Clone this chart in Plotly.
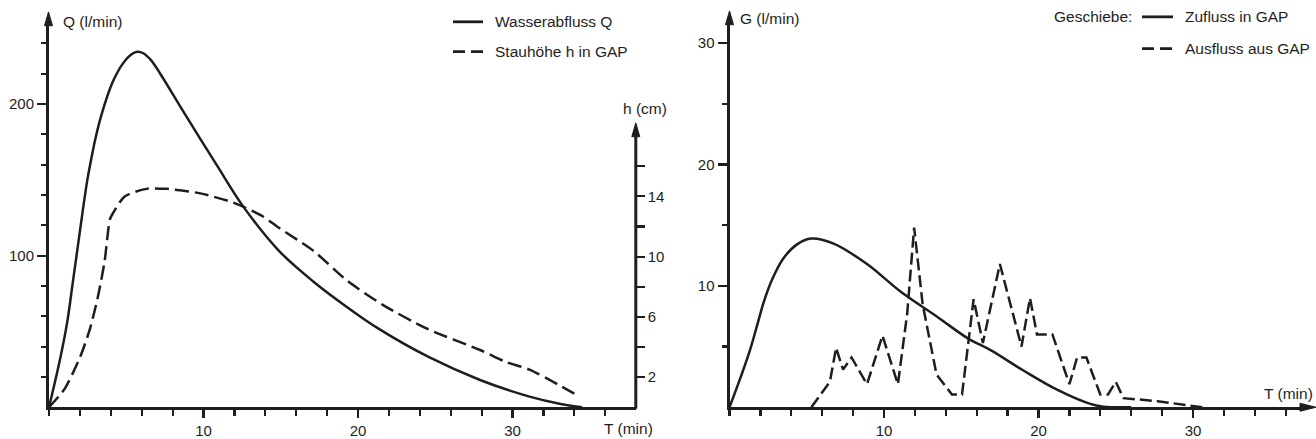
import plotly.graph_objects as go

# ---------------- data ----------------
# Left chart: water discharge Q (l/min) and backwater height h (cm) vs time T (min)
T_Q = [0, 0.7, 1.16, 1.55, 2.0, 2.45, 2.7, 3.0, 3.4, 4.1, 4.8, 5.3, 5.7, 6.1, 6.6, 7.2, 8.7, 10.9, 12.6,
       14.9, 17.1, 19.3, 21.3, 24.6, 27.9, 31.1, 33.2, 34.5]
Q_VAL = [0, 31, 55, 83, 116, 148, 162, 177, 193, 214, 227, 232.5, 234.5, 233.5, 229, 220, 195, 159, 132,
         103, 83, 66, 52, 33, 18, 7, 2, 0]

T_H = [0, 1.0, 2.0, 2.65, 3.2, 3.6, 3.95, 4.15, 4.9, 6.3, 7.6, 9.8, 11.9, 12.6, 13.8, 14.9,
       17.1, 19.3, 21.6, 24.5, 27.9, 29.6, 31.1, 34.0]
H_VAL = [0, 1.2, 3.3, 5.2, 7.5, 9.7, 12.5, 12.9, 14.0, 14.5, 14.5, 14.2, 13.6, 13.3, 12.7, 11.9,
         10.4, 8.4, 6.8, 5.2, 3.8, 3.0, 2.5, 0.9]

# Right chart: bed load G (l/min), inflow and outflow of GAP
T_IN = [0, 0.7, 1.3, 1.8, 2.2, 2.75, 3.45, 4.35, 5.3, 6.7, 8.9, 11.0, 13.5, 15.4, 16.9,
        19.0, 21.2, 23.3, 24.2, 26.0]
G_IN = [0, 2.4, 4.6, 6.8, 8.6, 10.5, 12.2, 13.4, 13.9, 13.5, 11.8, 9.6, 7.4, 5.7, 4.7,
        3.05, 1.45, 0.3, 0.05, 0]

T_OUT = [5.3, 6.5, 6.9, 7.35, 7.9, 8.9, 9.9, 10.9, 11.5, 11.95, 12.5, 13.4, 14.4, 15.05,
         15.8, 16.4, 17.5, 18.9, 19.45, 19.9, 20.9, 22.0, 22.5, 23.1, 24.0, 24.5, 25.0,
         25.5, 27.7, 29.8, 30.6]
G_OUT = [0, 2.1, 4.9, 3.1, 4.1, 1.9, 5.9, 1.9, 7.7, 14.8, 8.5, 2.7, 1.05, 1.05,
         8.9, 5.3, 11.8, 5.0, 9.0, 6.0, 6.0, 1.9, 4.1, 4.1, 1.05, 1.05, 2.1,
         0.75, 0.5, 0.15, 0]

X_MAJOR = [10, 20, 30]
X_MINOR = list(range(0, 38, 2))
Q_MAJOR = [100, 200]
Q_MINOR = list(range(20, 260, 20))
H_TICKS = [2, 4, 6, 8, 10, 12, 14, 16]
H_LABELS = ["2", "", "6", "", "10", "", "14", ""]
G_MAJOR = [10, 20, 30]
G_MINOR = [5, 15, 25]

# ---------------- layout helpers ----------------
W, H = 1316, 439
INK = "#1e1e1e"
FONT = "Liberation Sans, Arial, sans-serif"


def px(x):
    return x / W


def py(y):
    return 1 - y / H


ORIG_Y = 411
L_X0, R_X0 = 49, 729.5
PX_PER_MIN = 15.45
L_XEND_T = 37.98
R_XEND = 1302
Q_TOP, G_TOP = 20, 18
LW = 2.5
AXW = 3

fig = go.Figure()
fig.add_trace(go.Scatter(x=T_Q, y=Q_VAL, mode="lines", xaxis="x", yaxis="y",
                         line=dict(color=INK, width=LW, shape="spline", smoothing=1.0)))
fig.add_trace(go.Scatter(x=T_H, y=H_VAL, mode="lines", xaxis="x", yaxis="y2",
                         line=dict(color=INK, width=LW, dash="14px,6px", shape="spline", smoothing=0.7)))
fig.add_trace(go.Scatter(x=T_IN, y=G_IN, mode="lines", xaxis="x2", yaxis="y3",
                         line=dict(color=INK, width=LW, shape="spline", smoothing=1.0)))
fig.add_trace(go.Scatter(x=T_OUT, y=G_OUT, mode="lines", xaxis="x2", yaxis="y3",
                         line=dict(color=INK, width=LW, dash="12px,5px")))

axis_common = dict(showgrid=False, zeroline=False, showline=True, linecolor=INK, linewidth=AXW,
                   ticks="outside", tickcolor=INK, tickwidth=2.2, fixedrange=True,
                   tickfont=dict(family=FONT, size=15, color=INK))
minor_common = dict(ticks="outside", tickwidth=2.2, tickcolor=INK)

fig.update_layout(
    width=W, height=H, margin=dict(l=0, r=0, t=0, b=0),
    paper_bgcolor="white", plot_bgcolor="white", showlegend=False,
    font=dict(family=FONT, size=15, color=INK),
    xaxis=dict(axis_common, domain=[px(L_X0), px(L_X0 + L_XEND_T * PX_PER_MIN)],
               range=[0, L_XEND_T], anchor="y", tickvals=X_MAJOR, ticklen=8,
               minor=dict(minor_common, tickvals=X_MINOR, ticklen=6)),
    yaxis=dict(axis_common, domain=[py(ORIG_Y), py(Q_TOP)], range=[0, (ORIG_Y - Q_TOP) / 1.53],
               anchor="x", tickvals=Q_MAJOR, ticklen=9,
               minor=dict(minor_common, tickvals=Q_MINOR, ticklen=5)),
    yaxis2=dict(axis_common, overlaying="y", side="right", anchor="x", showline=False,
                range=[0, (ORIG_Y - Q_TOP) / 15.2], tickvals=H_TICKS, ticktext=H_LABELS, ticklen=8),
    xaxis2=dict(axis_common, domain=[px(R_X0), px(R_XEND)],
                range=[0, (R_XEND - R_X0) / PX_PER_MIN], anchor="y3", tickvals=X_MAJOR, ticklen=8,
                minor=dict(minor_common, tickvals=X_MINOR, ticklen=6)),
    yaxis3=dict(axis_common, domain=[py(ORIG_Y), py(G_TOP)], range=[0, (ORIG_Y - G_TOP) / 12.25],
                anchor="x2", tickvals=G_MAJOR, ticklen=9,
                minor=dict(minor_common, tickvals=G_MINOR, ticklen=5)),
)

shapes = []


def tri(points):
    d = "M " + " L ".join(f"{px(a)},{py(b)}" for a, b in points) + " Z"
    shapes.append(dict(type="path", path=d, xref="paper", yref="paper",
                       fillcolor=INK, line=dict(color=INK, width=1)))


H_AX_X = L_X0 + L_XEND_T * PX_PER_MIN
# h axis line + arrows
shapes.append(dict(type="line", xref="paper", yref="paper", x0=px(H_AX_X), x1=px(H_AX_X),
                   y0=py(ORIG_Y + 1.5), y1=py(134), line=dict(color=INK, width=AXW)))
tri([(H_AX_X, 124), (H_AX_X - 4, 138), (H_AX_X + 4, 138)])
tri([(L_X0 - 0.5, 12), (L_X0 - 4.5, 26), (L_X0 + 3.5, 26)])
tri([(R_X0, 11), (R_X0 - 4, 25), (R_X0 + 4, 25)])
tri([(1316, ORIG_Y), (R_XEND - 2, ORIG_Y - 4), (R_XEND - 2, ORIG_Y + 4)])


def sample(x0, x1, y, dash):
    shapes.append(dict(type="line", xref="paper", yref="paper", x0=px(x0), x1=px(x1),
                       y0=py(y), y1=py(y), line=dict(color=INK, width=2.8, dash=dash)))


sample(453, 483, 22, "solid")
sample(453, 483, 52, "12px,6px")
sample(1142, 1173, 17, "solid")
sample(1142, 1173, 49, "12px,6px")

annotations = []


def text(s, x, y, anchor="left", size=15.5):
    annotations.append(dict(text=s, x=px(x), y=py(y), xref="paper", yref="paper",
                            xanchor=anchor, yanchor="middle", showarrow=False,
                            font=dict(family=FONT, size=size, color=INK)))


text("Q (l/min)", 61, 22)
text("h (cm)", 621, 110)
text("T (min)", 602, 432)
text("G (l/min)", 738, 19)
text("T (min)", 1262, 397)
text("Wasserabfluss Q", 493, 22)
text("Stauhöhe h in GAP", 493, 52)
text("Geschiebe:", 1052, 17)
text("Zufluss in GAP", 1183, 17)
text("Ausfluss aus GAP", 1183, 49)

fig.update_layout(shapes=shapes, annotations=annotations)

fig.write_html("out.html", config={"displayModeBar": False, "staticPlot": True},
               post_script="document.body.style.margin='0';document.body.style.overflow='hidden';")
